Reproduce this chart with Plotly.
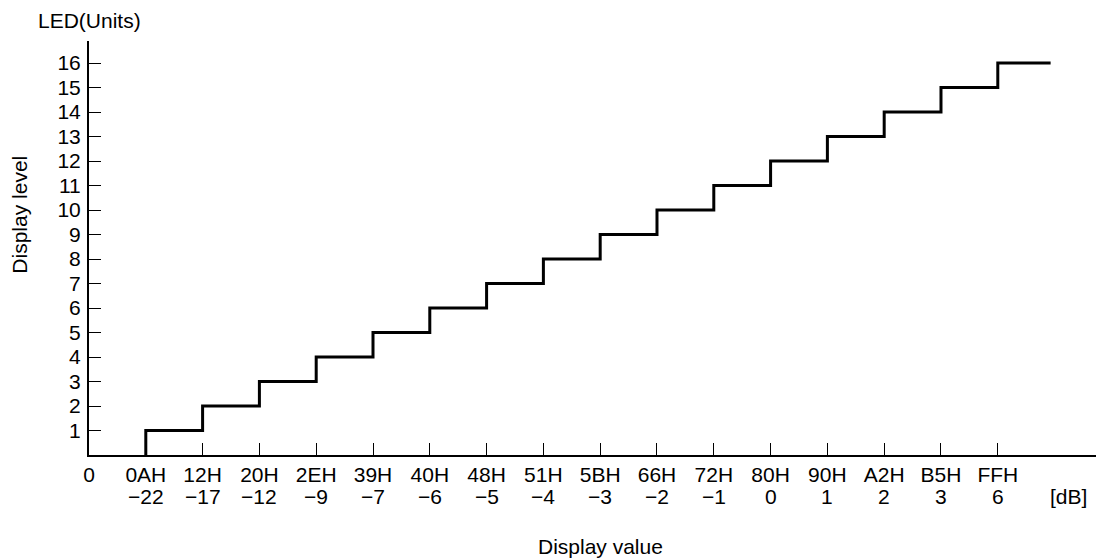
import plotly.graph_objects as go

# Data
hex_codes = ["0AH", "12H", "20H", "2EH", "39H", "40H", "48H", "51H",
             "5BH", "66H", "72H", "80H", "90H", "A2H", "B5H", "FFH"]
db_values = ["\u221222", "\u221217", "\u221212", "\u22129", "\u22127", "\u22126",
             "\u22125", "\u22124", "\u22123", "\u22122", "\u22121", "0", "1", "2", "3", "6"]
led_levels = list(range(1, 17))
step_positions = list(range(1, 17))   # category index of each threshold
line_end = 16.93                      # where the top step ends

FONT = "Liberation Sans, Arial, Helvetica, sans-serif"
FS = 21
DB_ROW_Y = -0.1014

# step line: vertical at each threshold, then horizontal to the next
xs = step_positions + [line_end]
ys = [0] + led_levels

fig = go.Figure()
fig.add_trace(go.Scatter(
    x=xs, y=ys, mode="lines", line=dict(color="black", width=3, shape="vh"),
    hoverinfo="skip", showlegend=False))

tickvals = [0] + step_positions
ticktext = ["0"] + hex_codes

annotations = [
    dict(text="LED(Units)", xref="paper", yref="paper", x=-0.0524, y=1.0507,
         xanchor="left", yanchor="middle", showarrow=False),
    dict(text="Display level", xref="paper", yref="paper", x=-0.0682, y=0.58,
         xanchor="center", yanchor="middle", textangle=-90, showarrow=False),
    dict(text="[dB]", xref="x", yref="paper", x=17.24, y=DB_ROW_Y,
         xanchor="center", yanchor="middle", showarrow=False),
    dict(text="Display value", xref="x", yref="paper", x=9.0, y=-0.222,
         xanchor="center", yanchor="middle", showarrow=False),
]
for pos, d in zip(step_positions, db_values):
    annotations.append(dict(text=d, xref="x", yref="paper", x=pos, y=DB_ROW_Y,
                            xanchor="center", yanchor="middle", showarrow=False))

fig.update_layout(
    width=1104, height=558,
    margin=dict(l=81.2, r=8, t=33, b=111),
    paper_bgcolor="white", plot_bgcolor="white",
    font=dict(family=FONT, size=FS, color="black"),
    xaxis=dict(range=[0, 17.87], tickvals=tickvals, ticktext=ticktext,
               ticks="inside", ticklen=12, tickwidth=1, tickcolor="black",
               showline=True, linecolor="black", linewidth=2,
               showgrid=False, zeroline=False, fixedrange=True,
               tickfont=dict(family=FONT, size=FS, color="black")),
    yaxis=dict(range=[0, 16.9], tickvals=led_levels, ticktext=[str(v) for v in led_levels],
               ticks="inside", ticklen=12, tickwidth=1, tickcolor="black",
               ticklabelstandoff=2,
               showline=True, linecolor="black", linewidth=2,
               showgrid=False, zeroline=False, fixedrange=True,
               tickfont=dict(family=FONT, size=FS, color="black")),
    annotations=annotations,
)
fig.update_annotations(font=dict(family=FONT, size=FS, color="black"))

fig.write_html("out.html")
